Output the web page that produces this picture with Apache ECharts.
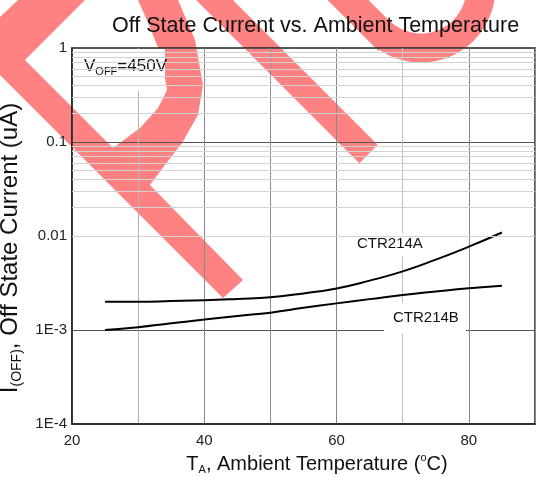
<!DOCTYPE html>
<html>
<head>
<meta charset="utf-8">
<script src="https://cdn.jsdelivr.net/npm/echarts@6/dist/echarts.min.js"></script>
<style>
  html, body { margin: 0; padding: 0; background: #fff; }
  #chart { width: 536px; height: 477px; }
</style>
</head>
<body>
<div id="chart"></div>
<script>
// ambient temperature (°C)
const temps = [25, 30, 35, 40, 45, 50, 55, 60, 65, 70, 75, 80, 85];
// off state current (uA)
const ctr214A = [2.0e-3, 2.0e-3, 2.03e-3, 2.07e-3, 2.14e-3, 2.23e-3, 2.45e-3, 2.77e-3, 3.35e-3, 4.2e-3, 5.6e-3, 7.7e-3, 1.09e-2];
const ctr214B = [1.0e-3, 1.07e-3, 1.18e-3, 1.29e-3, 1.41e-3, 1.53e-3, 1.72e-3, 1.92e-3, 2.13e-3, 2.36e-3, 2.57e-3, 2.78e-3, 2.96e-3];

const xTickLabels = [20, 40, 60, 80];
const yTickLabels = { '-4': '1E-4', '-3': '1E-3', '-2': '0.01', '-1': '0.1', '0': '1' };
// minor gridlines: 2..9 in every decade
const decades = [1e-4, 1e-3, 1e-2, 1e-1];
const minorSteps = [2, 3, 4, 5, 6, 7, 8, 9];

const FONT = '"Liberation Sans", Arial, sans-serif';
const RED = '#ff8282';

const chart = echarts.init(document.getElementById('chart'));

// watermark outlines (decoration only)
const wmP = [[-30, 45], [50, -30], [170, -30], [178, 0], [195, 40], [203, 85], [198, 115],
  [182, 143], [165, 165], [150, 185], [243, 280], [223, 298]];
const wmPHole = [[25, 60], [113, 148], [140, 128], [158, 108], [167, 90], [161, 55],
  [149, 25], [138, 0], [128, -25], [110, -25]];
function uCurve() {
  // left arm at 45deg, arc round the bottom, up the right side
  const arr = [[318, -30], [378.5, 30.5]];
  for (let i = 0; i <= 30; i++) {
    const a = (135 - 155 * i / 30) * Math.PI / 180;
    arr.push([421 + 60 * Math.cos(a), -12 + 60 * Math.sin(a)]);
  }
  return arr;
}

const minorValues = [];
decades.forEach(d => minorSteps.forEach(m => minorValues.push(m * d)));

const option = {
  animation: false,
  backgroundColor: '#fff',
  title: {
    text: 'Off State Current vs. Ambient Temperature',
    left: 107,
    top: 10,
    textStyle: { fontFamily: FONT, fontSize: 21.5, fontWeight: 'normal', color: '#111' }
  },
  grid: {
    left: 72, right: 1, top: 48, bottom: 53,
    containLabel: false,
    outerBoundsMode: 'none',
    show: true,
    borderColor: '#222',
    borderWidth: 1.5
  },
  xAxis: {
    type: 'value',
    min: 20,
    max: 90,
    interval: 10,
    name: '{i|T}{s|A}{i|, Ambient Temperature (}{p|o}{i|C)}',
    nameLocation: 'middle',
    nameGap: 27,
    nameTextStyle: {
      fontFamily: FONT, fontSize: 20, color: '#111',
      padding: [0, 0, 0, 27],
      rich: {
        i: { fontFamily: FONT, fontSize: 20, color: '#111' },
        s: { fontFamily: FONT, fontSize: 11, color: '#111', padding: [12, 0, 0, 0] },
        p: { fontFamily: FONT, fontSize: 11, color: '#111', padding: [0, 0, 12, 0] }
      }
    },
    axisLine: { lineStyle: { color: '#222', width: 1.5 } },
    axisTick: { show: false },
    axisLabel: {
      fontFamily: FONT, fontSize: 15, color: '#222', margin: 9,
      formatter: v => xTickLabels.indexOf(v) >= 0 ? String(v) : ''
    },
    splitLine: {
      show: true,
      lineStyle: { color: ['#888', '#b0b0b0', '#888', '#909090', '#888', '#c0c0c0', '#888', '#888'], width: 1 }
    }
  },
  yAxis: {
    type: 'log',
    logBase: 10,
    min: 1e-4,
    max: 1,
    name: '{i|I}{s|(OFF)}{i|, Off State Current (uA)}',
    nameLocation: 'middle',
    nameGap: 35,
    nameTextStyle: {
      fontFamily: FONT, fontSize: 24, color: '#111',
      padding: [0, 24, 0, 0],
      rich: {
        i: { fontFamily: FONT, fontSize: 24, color: '#111' },
        s: { fontFamily: FONT, fontSize: 14, color: '#111', padding: [14, 0, 0, 0] }
      }
    },
    axisLine: { show: true, lineStyle: { color: '#222', width: 1.5 } },
    axisTick: { show: false },
    axisLabel: {
      fontFamily: FONT, fontSize: 15, color: '#222', margin: 5,
      formatter: v => yTickLabels[String(Math.round(Math.log10(v)))] || ''
    },
    splitLine: { show: true, lineStyle: { color: '#555', width: 1 } }
  },
  graphic: [
    { type: 'polygon', z: -2, silent: true, shape: { points: wmP }, style: { fill: RED } },
    { type: 'polygon', z: -1.5, silent: true, shape: { points: wmPHole }, style: { fill: '#fff' } },
    { type: 'line', z: -2, silent: true, shape: { x1: 68.5, y1: -146, x2: 368.5, y2: 154 },
      style: { stroke: RED, lineWidth: 26 } },
    { type: 'polyline', z: -2, silent: true, shape: { points: uCurve() },
      style: { fill: null, stroke: RED, lineWidth: 29 } },
    // label boxes hide the grid behind the text
    { type: 'rect', z: 1, silent: true, shape: { x: 73, y: 49, width: 92, height: 42 }, style: { fill: '#fff' } },
    { type: 'rect', z: 1, silent: true, shape: { x: 348, y: 233, width: 84, height: 23 }, style: { fill: '#fff' } },
    { type: 'rect', z: 1, silent: true, shape: { x: 384, y: 303, width: 82, height: 31 }, style: { fill: '#fff' } },
    {
      type: 'text', z: 3, silent: true, left: 84, top: 58,
      style: {
        text: '{v|V}{s|OFF}{v|=450V}',
        fill: '#111',
        rich: {
          v: { fontFamily: FONT, fontSize: 17, fill: '#111' },
          s: { fontFamily: FONT, fontSize: 11, fill: '#111', padding: [10, 0, 0, 0] }
        }
      }
    },
    { type: 'text', z: 3, silent: true, left: 357, top: 236,
      style: { text: 'CTR214A', font: '15px ' + FONT, fill: '#111' } },
    { type: 'text', z: 3, silent: true, left: 393, top: 310,
      style: { text: 'CTR214B', font: '15px ' + FONT, fill: '#111' } }
  ],
  series: [
    {
      type: 'line',
      z: 0.5,
      data: [],
      markLine: {
        silent: true,
        symbol: 'none',
        label: { show: false },
        lineStyle: { color: '#d2d2d2', type: 'solid', width: 1 },
        data: minorValues.map(v => ({ yAxis: v }))
      }
    },
    {
      name: 'CTR214A',
      type: 'line',
      z: 4,
      smooth: true,
      showSymbol: false,
      lineStyle: { color: '#000', width: 2 },
      data: temps.map((t, i) => [t, ctr214A[i]])
    },
    {
      name: 'CTR214B',
      type: 'line',
      z: 4,
      smooth: true,
      showSymbol: false,
      lineStyle: { color: '#000', width: 2 },
      data: temps.map((t, i) => [t, ctr214B[i]])
    }
  ]
};

chart.setOption(option);
</script>
</body>
</html>
